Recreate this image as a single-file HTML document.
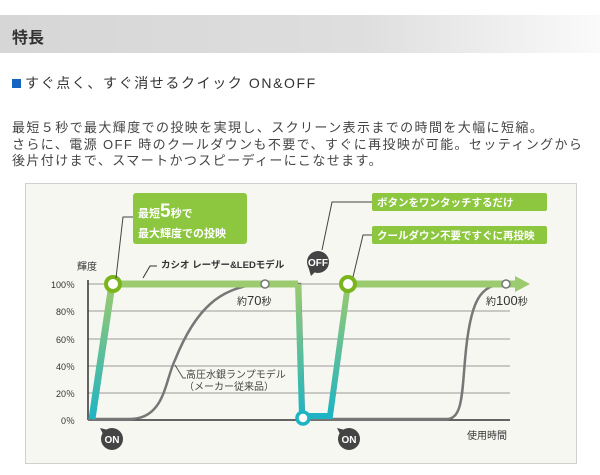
<!DOCTYPE html>
<html><head><meta charset="utf-8"><style>
body{margin:0;width:600px;height:475px;background:#fff;position:relative;overflow:hidden;font-family:"Liberation Sans","Noto Sans CJK JP",sans-serif}
.hd{position:absolute;left:0;top:15px;width:600px;height:38px;background:linear-gradient(to right,#d6d6d6 0%,#dedede 60%,#fafafa 100%)}
.hd span{position:absolute;left:12px;top:9px;font-size:16px;font-weight:bold;color:#333}
.sub{position:absolute;left:12px;top:73px;font-size:14px;color:#333;letter-spacing:1.6px}
.sub b{display:inline-block;width:9px;height:9px;background:#1565c0;margin-right:4px}
.p{position:absolute;left:12px;top:120px;font-size:13px;letter-spacing:1.4px;line-height:16.5px;color:#444;white-space:nowrap}
svg{position:absolute;left:0;top:0}
</style></head><body>
<div class="hd"><span>特長</span></div>
<div class="sub"><b></b>すぐ点く、すぐ消せるクイック ON&amp;OFF</div>
<div class="p">最短５秒で最大輝度での投映を実現し、スクリーン表示までの時間を大幅に短縮。<br>さらに、電源 OFF 時のクールダウンも不要で、すぐに再投映が可能。セッティングから<br>後片付けまで、スマートかつスピーディーにこなせます。</div>
<svg width="600" height="475" font-family="Liberation Sans,Noto Sans CJK JP,sans-serif">
<defs><linearGradient id="g" x1="0" y1="0" x2="0" y2="1"><stop offset="0" stop-color="#9cca6e"/><stop offset="1" stop-color="#1fb4c4"/></linearGradient></defs>
<rect x="25.5" y="183.5" width="551" height="280" fill="#f6f7f1" stroke="#d0d0d0"/>
<g stroke="#999" stroke-width="1">
<line x1="88" y1="311" x2="510" y2="311"/><line x1="88" y1="339" x2="510" y2="339"/><line x1="88" y1="366" x2="510" y2="366"/><line x1="88" y1="393" x2="510" y2="393"/><line x1="88" y1="284" x2="510" y2="284"/>
</g>
<line x1="88" y1="280" x2="88" y2="420" stroke="#333" stroke-width="1.5"/>
<line x1="88" y1="420" x2="510" y2="420" stroke="#333" stroke-width="1.5"/>
<g font-size="9" fill="#333" text-anchor="end"><text x="75" y="288">100％</text><text x="75" y="315">80％</text><text x="75" y="343">60％</text><text x="75" y="370">40％</text><text x="75" y="397">20％</text><text x="75" y="424">0％</text></g>
<text x="77" y="270" font-size="10" fill="#333">輝度</text>
<path d="M88 419 L130 419 C165 419 165 380 175 360 C195 310 220 285 265 284 L300 284 L304 419 L447 419 C462 419 462 395 465 360 C470 300 480 284 506 284 L520 284" fill="none" stroke="#777" stroke-width="2.5"/>
<path d="M92 419 L112 284" stroke="url(#g)" stroke-width="7" fill="none"/>
<line x1="112" y1="284" x2="298" y2="284" stroke="#9cca6e" stroke-width="7"/>
<path d="M298 284 L302 416" stroke="url(#g)" stroke-width="6" fill="none"/>
<path d="M303 416 L330 416 L348 284" stroke="url(#g)" stroke-width="6" fill="none"/>
<line x1="348" y1="284" x2="520" y2="284" stroke="#9cca6e" stroke-width="7"/>
<polygon points="515,276 530,284 515,292" fill="#9cca6e"/>
<circle cx="113" cy="284" r="7" fill="#fff" stroke="#7ab51d" stroke-width="4"/>
<circle cx="348" cy="284" r="7" fill="#fff" stroke="#7ab51d" stroke-width="4"/>
<circle cx="265" cy="284" r="4" fill="#fff" stroke="#777" stroke-width="1.5"/>
<circle cx="506" cy="284" r="4" fill="#fff" stroke="#777" stroke-width="1.5"/>
<circle cx="303" cy="418" r="6" fill="#fff" stroke="#1fb4c4" stroke-width="3.5"/>
<path d="M116 278 L123 217 L133 217" fill="none" stroke="#444"/>
<rect x="133" y="193" width="114" height="51" rx="3" fill="#8dc63f"/>
<text x="138" y="217" font-size="11" font-weight="bold" fill="#fff">最短<tspan font-size="19">5</tspan>秒で</text>
<text x="138" y="237" font-size="11" font-weight="bold" fill="#fff">最大輝度での投映</text>
<path d="M143 278 L150 266 L157 266" fill="none" stroke="#333"/>
<text x="161" y="268" font-size="9.5" font-weight="bold" fill="#333">カシオ レーザー&amp;LEDモデル</text>
<text x="237" y="305" font-size="10" fill="#333">約<tspan font-size="13">70</tspan>秒</text>
<path d="M175 365 L183 378 L186 378" fill="none" stroke="#555"/>
<text x="186" y="378" font-size="10" fill="#444">高圧水銀ランプモデル</text>
<text x="184" y="390" font-size="10" fill="#444">（メーカー従来品）</text>
<path d="M322 250 L332 202 L372 202" fill="none" stroke="#444"/>
<rect x="372" y="193" width="175" height="18" rx="2" fill="#8dc63f"/>
<text x="377" y="206" font-size="10.5" font-weight="bold" fill="#fff">ボタンをワンタッチするだけ</text>
<path d="M353 277 L363 235 L372 235" fill="none" stroke="#444"/>
<rect x="372" y="226" width="175" height="18" rx="2" fill="#8dc63f"/>
<text x="377" y="239" font-size="10.5" font-weight="bold" fill="#fff">クールダウン不要ですぐに再投映</text>
<text x="486" y="305" font-size="10" fill="#333">約<tspan font-size="13">100</tspan>秒</text>
<text x="467" y="439" font-size="10" fill="#333">使用時間</text>
<g font-size="10" font-weight="bold" fill="#fff" text-anchor="middle">
<circle cx="318" cy="262" r="11" fill="#444"/><polygon points="308,266 311,276 316,271" fill="#444"/><text x="318" y="266">OFF</text>
<circle cx="112" cy="439" r="11" fill="#444"/><polygon points="100,428 104,436 108,430" fill="#444"/><text x="112" y="443">ON</text>
<circle cx="349" cy="439" r="11" fill="#444"/><polygon points="337,428 341,436 345,430" fill="#444"/><text x="349" y="443">ON</text>
</g>
</svg>
</body></html>
